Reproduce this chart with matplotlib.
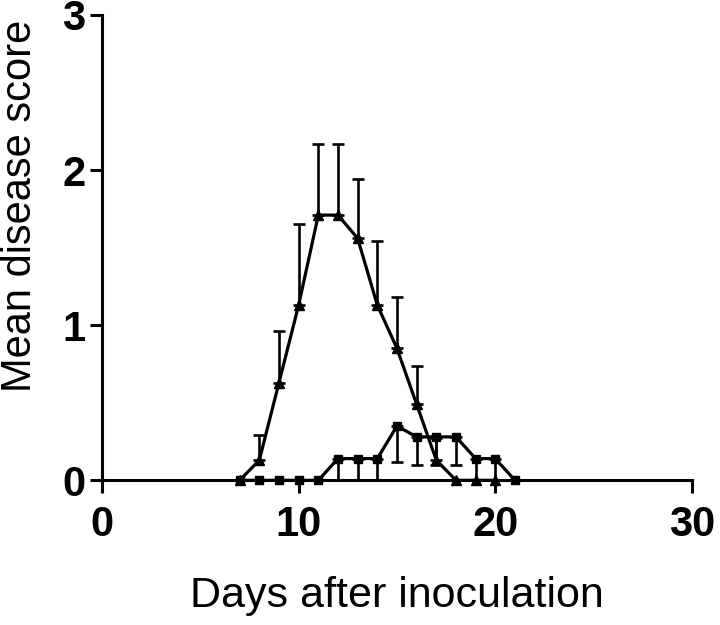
import matplotlib
matplotlib.use("Agg")
import matplotlib.pyplot as plt

# Dnevi in povprecja (branje s slike)
days_tri = [7, 8, 9, 10, 11, 12, 13, 14, 15, 16, 17, 18, 19, 20]
mean_tri = [0, 0.13, 0.63, 1.13, 1.71, 1.71, 1.56, 1.13, 0.85, 0.49, 0.13, 0, 0, 0]
err_tri = [0, 0.16, 0.33, 0.52, 0.46, 0.46, 0.38, 0.41, 0.33, 0.25, 0.14, 0, 0, 0]

days_sq = [7, 8, 9, 10, 11, 12, 13, 14, 15, 16, 17, 18, 19, 20, 21]
mean_sq = [0, 0, 0, 0, 0, 0.14, 0.14, 0.14, 0.35, 0.28, 0.28, 0.28, 0.14, 0.14, 0]
err_sq = [0, 0, 0, 0, 0, 0.14, 0.14, 0.14, 0.23, 0.18, 0.18, 0.18, 0.14, 0.14, 0]

x_ticks = [0, 10, 20, 30]
y_ticks = [0, 1, 2, 3]

plt.rcParams['font.family'] = ['Liberation Sans', 'DejaVu Sans']

fig = plt.figure(figsize=(7.2, 6.25), dpi=100)
ax = fig.add_axes([0.1417, 0.2315, 0.8193, 0.7445])

# Trikotniki - napake navzgor
ax.errorbar(days_tri, mean_tri, yerr=[[0] * len(err_tri), err_tri], color="black",
            marker="^", markersize=7.5, linewidth=2.3, elinewidth=1.9, capsize=4.5,
            capthick=1.9, clip_on=False, zorder=3)
# Kvadrati - napake navzdol
ax.errorbar(days_sq, mean_sq, yerr=[err_sq, [0] * len(err_sq)], color="black",
            marker="s", markersize=6, linewidth=2.3, elinewidth=1.9, capsize=4.5,
            capthick=1.9, clip_on=False, zorder=3)

ax.set_xlim(0, 30)
ax.set_ylim(0, 3)
ax.set_xticks(x_ticks)
ax.set_yticks(y_ticks)

for side in ["top", "right"]:
    ax.spines[side].set_visible(False)
for side in ["left", "bottom"]:
    ax.spines[side].set_linewidth(2.2)

ax.tick_params(axis="both", width=2.2, length=9, labelsize=30)
ax.tick_params(axis="x", pad=9)
ax.tick_params(axis="y", pad=3)
for lab in ax.get_xticklabels() + ax.get_yticklabels():
    lab.set_fontweight("bold")

ax.set_xlabel("Days after inoculation", fontsize=31, labelpad=22)
ax.set_ylabel("Mean disease score", fontsize=30)
# Oznaka osi y je v izvirniku nekoliko visje
ax.yaxis.set_label_coords(-0.139, 0.59)
ax.yaxis.label.set_verticalalignment("center")

fig.savefig("out.png", dpi=100)
